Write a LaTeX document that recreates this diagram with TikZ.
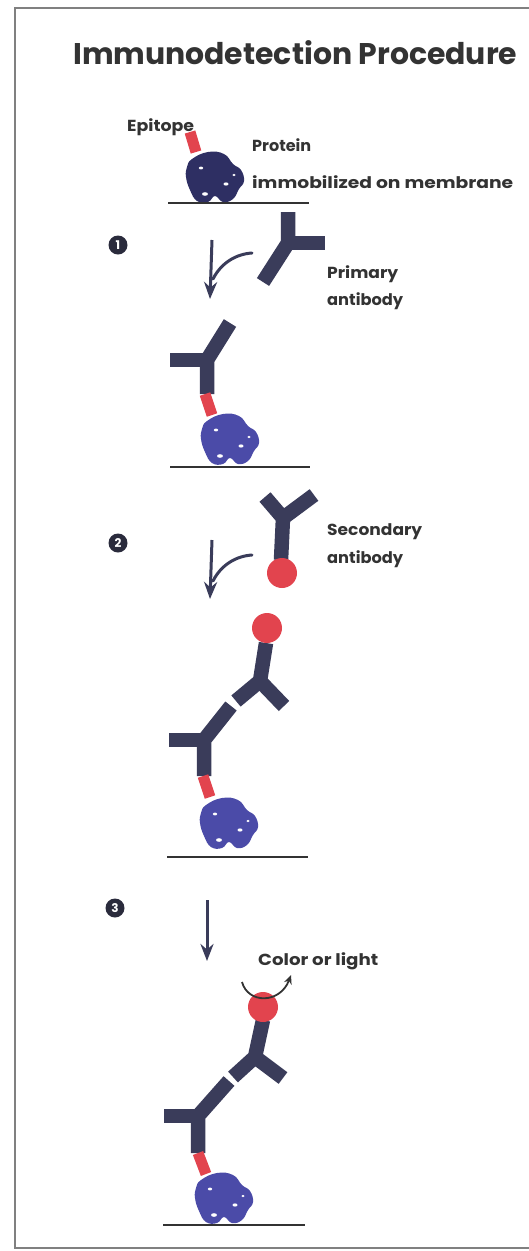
\documentclass[tikz,border=0pt]{standalone}
\usepackage{fontspec}
\setmainfont{Poppins}
\usetikzlibrary{arrows.meta}
\definecolor{ink}{HTML}{3A3C5A}
\definecolor{inkdark}{HTML}{2A2B3C}
\definecolor{epi}{HTML}{E2444E}
\definecolor{prot}{HTML}{4B4BA8}
\definecolor{protdark}{HTML}{2E2F63}
\definecolor{txt}{HTML}{333333}
\definecolor{frame}{HTML}{808080}
% label text squeezed to a given width, height unchanged
\newcommand{\fitw}[2]{\resizebox{#1}{\height}{#2}}
\tikzset{
  ab/.style={line width=14.5pt, draw=ink, line cap=butt, line join=miter},
  epitope/.style={line width=11pt, draw=epi, line cap=butt},
  membrane/.style={line width=2.5pt, draw=txt},
  flow/.style={line width=3pt, draw=ink, -{Stealth[length=17pt,width=13pt]}},
  swoosh/.style={line width=3pt, draw=ink, line cap=round},
  glow/.style={line width=1.8pt, draw=txt, -{Stealth[length=9pt,width=8pt]}},
  label/.style={text=txt, inner sep=0pt, anchor=base west, font=\bfseries\fontsize{16}{16}\selectfont},
  num/.style={circle, fill=inkdark, text=white, minimum size=19pt, inner sep=0pt, font=\bfseries\fontsize{12}{12}\selectfont},
  dot/.style={circle, fill=epi, inner sep=0pt, minimum size=30pt},
  blob/.pic={
    \path[pic actions] plot[smooth cycle, tension=0.75] coordinates {
      (-22,-18) (-6,-25) (10,-23) (19,-13) (27,-7) (30,4) (25,12) (19,22)
      (9,25) (1,19) (-6,25) (-17,24) (-24,13) (-28,0) (-27,-10)};
    \fill[white] (-13,-9) ellipse (2.2 and 1.4);
    \fill[white] (12,7) ellipse (2.5 and 1.6);
    \fill[white] (-9,17) ellipse (3 and 1.8);
    \fill[white] (20,-2) ellipse (1.6 and 1.2);
  }
}
\begin{document}
\begin{tikzpicture}[x=1pt,y=-1pt]
\useasboundingbox (0,0) rectangle (529,1251);
% panel frame
\fill[white] (0,0) rectangle (529,1251);
\draw[frame, line width=2.5pt] (531,8) -- (15,8) -- (15,1248) -- (531,1248);

% title
\node[anchor=base west, inner sep=0pt, text=txt] (title) at (73,64)
  {\resizebox{444pt}{!}{\bfseries Immunodetection Procedure}};

% ---- starting state: protein on the membrane ----
\node[label] (lepi) at (127,131) {\fitw{67pt}{Epitope}};
\node[label] (lprot) at (252,151) {\fitw{59pt}{Protein}};
\node[label] (limm) at (252,188) {\fitw{261pt}{immobilized on membrane}};
\pic[fill=protdark] at (214,177) {blob};
\draw[epitope] (190,132) -- (196,152);
\draw[membrane] (168,203) -- (309,203);

% ---- step 1: primary antibody ----
\node[num] (n1) at (118,245) {1};
\coordinate (a1top) at (212,240);
\coordinate (a1tip) at (210,299);
\coordinate (w1s) at (252,253);
\coordinate (w1e) at (213,279);
\draw[flow] (a1top) -- (a1tip);
\draw[swoosh] (w1s) .. controls (236,254) and (221,263) .. (w1e);
% free primary antibody
\draw[ab] (288,212) -- (288,243) -- (263,282);
\draw[ab] (288,243) -- (325,243);
\fill[ink] (288,243) circle (7);
\node[label] (lprim) at (327,278) {\fitw{71pt}{Primary}};
\node[label] (lpab) at (327,305) {\fitw{76pt}{antibody}};
% bound primary antibody
\draw[ab] (230,323) -- (207,360) -- (207,394);
\draw[ab] (207,360) -- (170,360);
\fill[ink] (207,360) circle (7);
\draw[epitope] (205,394) -- (212,415);
\pic[fill=prot] at (229,439) {blob};
\draw[membrane] (170,467) -- (310,467);

% ---- step 2: secondary antibody ----
\node[num] (n2) at (118,543) {2};
\coordinate (a2top) at (212,540);
\coordinate (a2tip) at (210,599);
\coordinate (w2s) at (252,555);
\coordinate (w2e) at (213,581);
\draw[flow] (a2top) -- (a2tip);
\draw[swoosh] (w2s) .. controls (236,556) and (221,565) .. (w2e);
% free secondary antibody with label enzyme
\draw[ab] (265,497) -- (283,518) -- (281,560);
\draw[ab] (283,518) -- (314,495);
\fill[ink] (283,518) circle (7);
\node[dot] (e2a) at (282,573) {};
\node[label] (lsec) at (327,535) {\fitw{95pt}{Secondary}};
\node[label] (lsab) at (327,563) {\fitw{76pt}{antibody}};
% bound complex
\draw[ab] (266,643) -- (260,681) -- (236,701);
\draw[ab] (260,681) -- (284,706);
\fill[ink] (260,681) circle (7);
\node[dot] (e2b) at (267,628) {};
\draw[ab] (231,706) -- (204,740) -- (204,776);
\draw[ab] (204,740) -- (169,740);
\fill[ink] (204,740) circle (7);
\draw[epitope] (203,776) -- (210,797);
\pic[fill=prot] at (228,823) {blob};
\draw[membrane] (167,857) -- (308,857);

% ---- step 3: detection ----
\node[num] (n3) at (115,908) {3};
\coordinate (a3top) at (207,900);
\coordinate (a3tip) at (207,961);
\draw[flow] (a3top) -- (a3tip);
\draw[ab] (263,1020) -- (255,1057) -- (233,1077);
\draw[ab] (255,1057) -- (283,1078);
\fill[ink] (255,1057) circle (7);
\node[dot] (e3) at (263,1007) {};
\coordinate (g3s) at (242,982);
\coordinate (g3e) at (291,975);
\draw[glow] (g3s) .. controls (248,1004) and (280,1004) .. (g3e);
\node[label] (lcol) at (258,965) {\fitw{120pt}{Color or light}};
\draw[ab] (229,1081) -- (198,1116) -- (198,1153);
\draw[ab] (198,1116) -- (164,1116);
\fill[ink] (198,1116) circle (7);
\draw[epitope] (198,1153) -- (206,1174);
\pic[fill=prot] at (223,1198) {blob};
\draw[membrane] (163,1225) -- (305,1225);
\end{tikzpicture}
\end{document}
